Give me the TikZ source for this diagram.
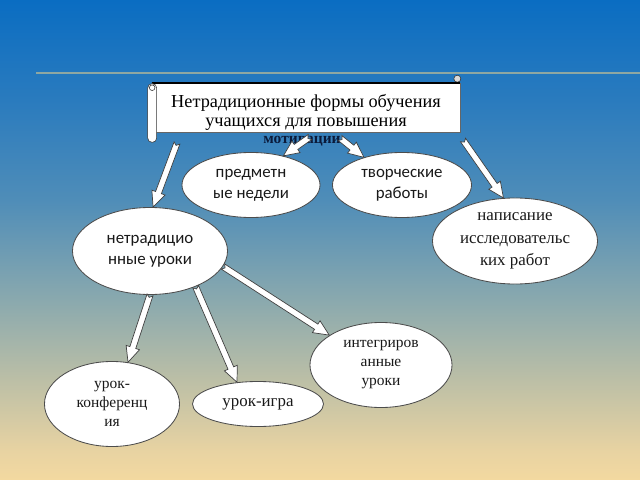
\documentclass[tikz,border=0pt]{standalone}
\usepackage{fontspec}
\setmainfont{Liberation Serif}
\newfontfamily\ovalfont{Carlito}
\usepackage{tikz}
\usetikzlibrary{calc,shapes.geometric}
\definecolor{bgtop}{HTML}{0A6DC2}
\definecolor{bgblue}{HTML}{2A7BBE}
\definecolor{bgmid}{HTML}{4F8DB8}
\definecolor{bggrey}{HTML}{8AA9AE}
\definecolor{bgsand}{HTML}{BCBFA6}
\definecolor{bglow}{HTML}{E8D3A2}
\definecolor{bgbot}{HTML}{F3D9A0}
\definecolor{hline}{HTML}{8DA7A2}
\definecolor{motcol}{HTML}{0A1A3A}
\pgfdeclareverticalshading{skyfade}{100bp}{color(0bp)=(bgbot); color(25bp)=(bgbot); color(28bp)=(bglow); color(35.4bp)=(bgsand); color(43.75bp)=(bggrey); color(54.2bp)=(bgmid); color(64.6bp)=(bgblue); color(75bp)=(bgtop); color(100bp)=(bgtop)}

\begin{document}
\begin{tikzpicture}[x=0.025cm,y=-0.025cm,
		oval/.style={ellipse,draw=black!70,line width=0.6pt,fill=white,inner sep=0pt,align=center,text=black!90},
		sansoval/.style={oval,font=\ovalfont\fontsize{12}{15}\selectfont},
		serifoval/.style={oval,font=\fontsize{11}{13.5}\selectfont},
		blockarr/.style={draw=black!75,fill=white,line width=0.5pt,
			to path={let \p1=(\tikztostart),\p2=(\tikztotarget),
				\n1={atan2(\y2-\y1,\x2-\x1)},\n2={veclen(\x2-\x1,\y2-\y1)},\n3={\n2-11} in
				[shift={(\p1)},rotate=\n1] (0pt,-2.2pt) -- (\n3,-2.2pt) -- (\n3,-5pt) -- (\n2,0pt)
				-- (\n3,5pt) -- (\n3,2.2pt) -- (0pt,2.2pt) -- (1.8pt,0pt) -- cycle}}]
		\useasboundingbox (0,0) rectangle (640,480);
		\shade[shading=skyfade] (0,0) rectangle (640,480);
		\draw[line width=1.3pt,draw=hline] (36,73) -- (640,73);

		\node (scroll) [rectangle,draw=black!60,fill=white,minimum width=7.7cm,minimum height=1.225cm,inner sep=0pt] at (306,107.5) {};
		\draw[fill=black!15,draw=black!80] ($(scroll.north east)+(-3,-4)$) circle [radius=2.5pt];
		\draw[line width=1.2pt] (scroll.north west) -- (scroll.north east);
		\draw[fill=white,draw=black!80,rounded corners=3pt] ($(scroll.north west)+(-4,1)$) rectangle ($(scroll.south west)+(5,10)$);
		\draw[draw=black!80] ($(scroll.north west)+(0.5,5)$) circle [radius=2pt];
		\node (title) [align=center,font=\fontsize{13}{13.5}\selectfont] at (306,112) {Нетрадиционные формы обучения\\учащихся для повышения};
		\node (mot) [font=\bfseries\fontsize{11}{12}\selectfont,text=motcol] at (302,141) {мотивации};

		\node (pred) [sansoval,minimum width=3.45cm,minimum height=1.625cm] at (251,185) {предметн\\ые недели};
		\node (tvor) [sansoval,minimum width=3.475cm,minimum height=1.625cm] at (402,185) {творческие\\работы};
		\node (nap) [serifoval,font=\fontsize{12}{16}\selectfont,minimum width=4.125cm,minimum height=2.15cm] at (515,241) {написание\\исследовательс\\ких работ};
		\node (nu) [sansoval,minimum width=3.875cm,minimum height=2.175cm] at (150,251) {нетрадицио\\нные уроки};
		\node (konf) [serifoval,minimum width=3.375cm,minimum height=2.125cm] at (112,404) {урок-\\конференц\\ия};
		\node (igra) [serifoval,font=\fontsize{12}{14}\selectfont,minimum width=3.275cm,minimum height=1.125cm] at (258,404) {урок-игра};
		\node (integ) [serifoval,minimum width=3.55cm,minimum height=2.125cm] at (381,365) {интегриров\\анные\\уроки};

		\coordinate (c1) at (177,143);
		\coordinate (c2) at (310,137);
		\coordinate (c3) at (340,138);
		\coordinate (c4) at (463,140);
		\draw[blockarr] (c1) to (nu.86);
		\draw[blockarr] (c2) to (pred.42);
		\draw[blockarr] (c3) to (tvor.144);
		\draw[blockarr] (c4) to (nap.105);
		\draw[blockarr] (nu.270) to (konf.69);
		\draw[blockarr] (nu.322) to (igra.134);
		\draw[blockarr] (nu.348) to (integ.150);
	\end{tikzpicture}
\end{document}
